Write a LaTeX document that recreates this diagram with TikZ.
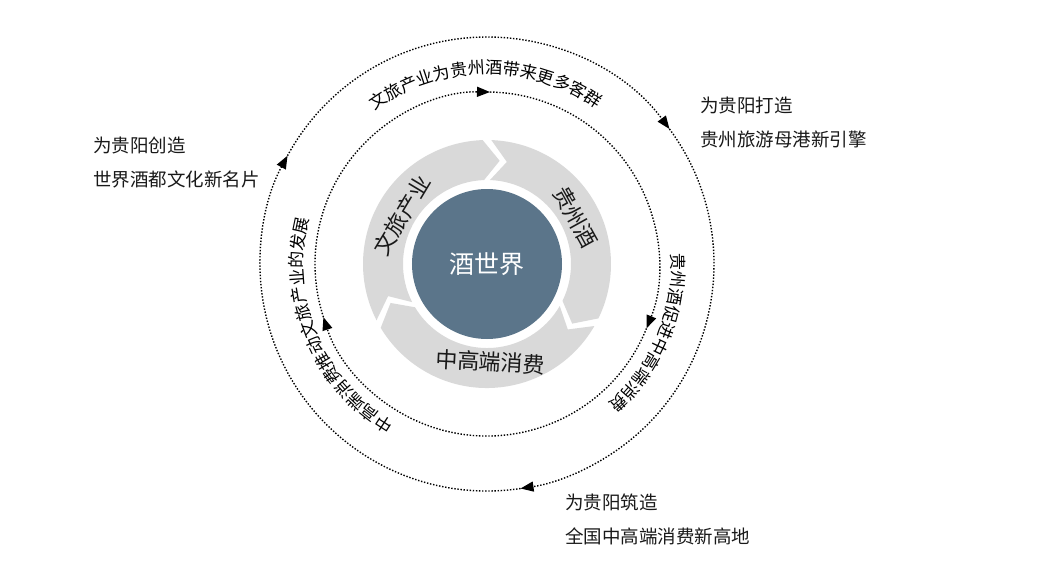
\documentclass[tikz,border=0pt]{standalone}
\usepackage{fontspec}
\setmainfont{Noto Sans CJK SC}
\usepackage{xcolor}
\usetikzlibrary{arrows.meta}
\usetikzlibrary{decorations.text}
\definecolor{hubblue}{RGB}{91,117,138}
\definecolor{ringgray}{RGB}{217,217,217}
\definecolor{inkgray}{RGB}{25,25,25}
\newcommand\arcfont{\fontsize{17pt}{17pt}\selectfont}

\begin{document}
\begin{tikzpicture}[x=1pt, y=1pt,
    dotline/.style={black, line width=1.4pt, dash pattern=on 1.4pt off 1.7pt, -{Triangle[length=13pt, width=10pt]}},
    ringtext/.style={inkgray, font=\fontsize{22pt}{22pt}\selectfont},
    goal/.style={inkgray, anchor=west, align=left, inner sep=0pt, font=\fontsize{18.5pt}{34pt}\selectfont}]
    \useasboundingbox (-487, -310) rectangle (557, 264);
    \foreach \s/\e in {207/92, 88/-26, -30/-149}{
        \fill[ringgray] (\s:124) arc[start angle=\s, end angle=\e, radius=124] -- ({\e-9}:104) -- (\e:84)
            arc[start angle=\e, end angle=\s, radius=84] -- ({\s-9}:104) -- cycle;
    }
    \node[circle, fill=hubblue, minimum size=150pt, text=white, font=\fontsize{25pt}{25pt}\selectfont] (hub) at (0, 0) {酒世界};
    \node[ringtext, rotate=59] (segTour) at (150:98) {文旅产业};
    \node[ringtext, rotate=-61] (segLiquor) at (28:100) {贵州酒};
    \node[ringtext, rotate=-3] (segConsume) at (-88:98) {中高端消费};
    \foreach \a/\b in {151.5/36.5, 36.5/-81.5, -81.5/-208.5}{
        \draw[dotline] (\a:227) arc[start angle=\a, end angle=\b, radius=227];
    }
    \foreach \a/\b in {89/-22, -22/-162, -162/-271}{
        \draw[dotline] (\a:172) arc[start angle=\a, end angle=\b, radius=172];
    }
    \path[decorate, decoration={text along path, text align=center, text={|\arcfont|文旅产业为贵州酒带来更多客群}}]
        (150.5:190) arc[start angle=150.5, end angle=30.5, radius=190];
    \path[decorate, decoration={text along path, text align=center, text={|\arcfont|贵州酒促进中高端消费}}]
        (37:185) arc[start angle=37, end angle=-83, radius=185];
    \path[decorate, decoration={text along path, text align=center, text={|\arcfont|中高端消费推动文旅产业的发展}}]
        (262.7:184) arc[start angle=262.7, end angle=142.7, radius=184];
    \node[goal] (goalCulture) at (-394, 101) {为贵阳创造\\世界酒都文化新名片};
    \node[goal] (goalTour) at (213, 141.5) {为贵阳打造\\贵州旅游母港新引擎};
    \node[goal] (goalConsume) at (78, -255.5) {为贵阳筑造\\全国中高端消费新高地};
\end{tikzpicture}
\end{document}
